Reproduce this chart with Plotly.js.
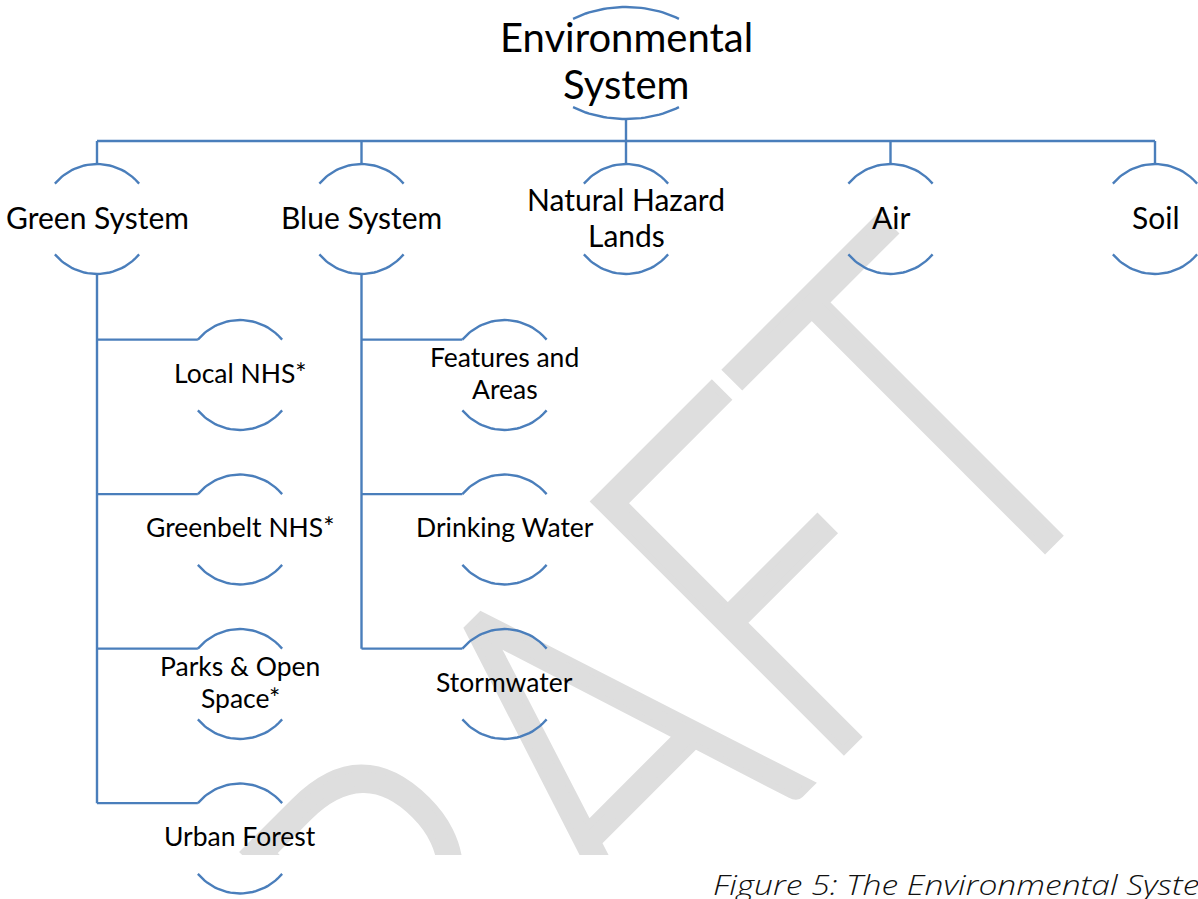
<!DOCTYPE html>
<html>
<head>
<meta charset="utf-8">
<script src="https://cdn.plot.ly/plotly-3.0.1.min.js"></script>
<style>
  html, body { margin: 0; padding: 0; background: #ffffff; }
  #wrap { position: relative; width: 1198px; height: 899px; overflow: hidden; }
  #wmClip { position: absolute; left: 0; top: 0; width: 1198px; height: 855px; overflow: hidden; }
  #wm { position: absolute; left: 0; top: 0; width: 1198px; height: 899px; }
  #chart { position: absolute; left: 0; top: 0; width: 1198px; height: 899px; }
</style>
</head>
<body>
<div id="wrap">
  <div id="wmClip"><div id="wm"></div></div>
  <div id="chart"></div>
</div>
<script>
// ---------- data ----------
const rootLabel = ['Environmental', 'System'];
const level1Labels = [['Green System'], ['Blue System'], ['Natural Hazard', 'Lands'], ['Air'], ['Soil']];
const greenChildren = [['Local NHS*'], ['Greenbelt NHS*'], ['Parks & Open', 'Space*'], ['Urban Forest']];
const blueChildren = [['Features and', 'Areas'], ['Drinking Water'], ['Stormwater']];
const childParents = [0, 1];               // level-1 indices that have children
const childLists = [greenChildren, blueChildren];
const captionText = 'Figure 5: The Environmental System';
const watermarkText = 'DRAFT';

// ---------- layout geometry ----------
const W = 1198, H = 899;
const LINE = '#4a7ebb';
const WM_COLOR = '#dedede';
const FONT = 'Lato, "Open Sans", sans-serif';
const TEXT_DY = -2.5;
const ROOT = { x: 626, y: 63, a: 86, b: 56, half: 38, size: 40, gap: 47 };
const L1 = { x0: 97, dx: 264.5, y: 219, r: 55, half: 50, size: 30, gap: 36 };
const L2 = { offX: 143, y0: 375, dy: 154.5, r: 55, half: 50, size: 26.5, gap: 32 };
const BAR_Y = 141;

const xs = [], ys = [];
function seg(pts) { pts.forEach(p => { xs.push(p[0]); ys.push(p[1]); }); xs.push(null); ys.push(null); }
function arc(cx, cy, a, b, halfDeg, top) {
  const pts = [];
  const n = 30;
  for (let i = 0; i <= n; i++) {
    const t = (-halfDeg + 2 * halfDeg * i / n) * Math.PI / 180;
    pts.push([cx + a * Math.sin(t), top ? cy - b * Math.cos(t) : cy + b * Math.cos(t)]);
  }
  seg(pts);
}
const annotations = [];
function label(lines, cx, cy, size, gap) {
  const n = lines.length;
  lines.forEach((txt, i) => {
    annotations.push({
      x: cx, y: cy + TEXT_DY + (i - (n - 1) / 2) * gap, xref: 'x', yref: 'y',
      text: txt, showarrow: false, xanchor: 'center', yanchor: 'middle',
      font: { family: FONT, size: size, color: '#000000' }
    });
  });
}
function node(lines, cx, cy, a, b, half, size, gap) {
  arc(cx, cy, a, b, half, true);
  arc(cx, cy, a, b, half, false);
  label(lines, cx, cy, size, gap);
}

// root
node(rootLabel, ROOT.x, ROOT.y, ROOT.a, ROOT.b, ROOT.half, ROOT.size, ROOT.gap);
seg([[ROOT.x, ROOT.y + ROOT.b], [ROOT.x, BAR_Y]]);
// bar across level 1
const l1x = level1Labels.map((_, i) => L1.x0 + i * L1.dx);
seg([[l1x[0], BAR_Y], [l1x[l1x.length - 1], BAR_Y]]);
level1Labels.forEach((lab, i) => {
  seg([[l1x[i], BAR_Y], [l1x[i], L1.y - L1.r]]);
  node(lab, l1x[i], L1.y, L1.r, L1.r, L1.half, L1.size, L1.gap);
});
// level 2
const endDx = L2.r * Math.sin(L2.half * Math.PI / 180);
const endDy = L2.r * Math.cos(L2.half * Math.PI / 180);
childParents.forEach((p, k) => {
  const px = l1x[p];
  const kids = childLists[k];
  const cx = px + L2.offX;
  const lastY = L2.y0 + (kids.length - 1) * L2.dy - endDy;
  seg([[px, L1.y + L1.r], [px, lastY]]);
  kids.forEach((lab, j) => {
    const cy = L2.y0 + j * L2.dy;
    seg([[px, cy - endDy], [cx - endDx, cy - endDy]]);
    node(lab, cx, cy, L2.r, L2.r, L2.half, L2.size, L2.gap);
  });
});

// caption (runs off the right edge, as in the source page)
annotations.push({
  x: 711, y: 884, xref: 'x', yref: 'y', text: captionText, showarrow: false,
  xanchor: 'left', yanchor: 'middle', align: 'left',
  font: { family: '"Open Sans", Lato, sans-serif', size: 27, color: '#111111', style: 'italic', weight: 300 }
});

const axisX = { range: [0, W], visible: false, fixedrange: true };
const axisY = { range: [H, 0], visible: false, fixedrange: true };

function pickText(selector, pick) {
  const els = document.querySelectorAll(selector);
  return pick === 'last' ? els[els.length - 1] : els[0];
}
function condense(el, fn) {
  if (el && el.getComputedTextLength) {
    const len = el.getComputedTextLength();
    el.setAttribute('textLength', fn(len).toFixed(1));
    el.setAttribute('lengthAdjust', 'spacingAndGlyphs');
  }
}

Plotly.newPlot('chart', [{
  type: 'scatter', mode: 'lines', x: xs, y: ys, hoverinfo: 'skip',
  line: { color: LINE, width: 2.4 }, connectgaps: false
}], {
  width: W, height: H, margin: { l: 0, r: 0, t: 0, b: 0 },
  paper_bgcolor: 'rgba(0,0,0,0)', plot_bgcolor: 'rgba(0,0,0,0)',
  xaxis: axisX, yaxis: axisY, showlegend: false, annotations: annotations
}, { staticPlot: true, displayModeBar: false }).then(() => {
  // the source caption face is a wide geometric italic
  condense(pickText('#chart .annotation-text', 'last'), () => 515);
});

// watermark (clipped at the page edge, y = 855)
Plotly.newPlot('wm', [], {
  width: W, height: H, margin: { l: 0, r: 0, t: 0, b: 0 },
  paper_bgcolor: '#ffffff', plot_bgcolor: '#ffffff',
  xaxis: axisX, yaxis: axisY, showlegend: false,
  annotations: [{
    x: 556, y: 765, xref: 'x', yref: 'y', text: watermarkText, showarrow: false,
    xanchor: 'center', yanchor: 'middle', textangle: -45,
    font: { family: FONT, size: 497, color: WM_COLOR, weight: 300 }
  }]
}, { staticPlot: true, displayModeBar: false }).then(() => {
  const el = pickText('#wm .annotation-text', 'first');
  condense(el, len => len * 0.79);
  if (el) {
    // thicken the light strokes to the watermark's even ~30px weight
    el.style.stroke = WM_COLOR;
    el.style.strokeWidth = '8px';
    el.style.strokeLinejoin = 'miter';
  }
});
</script>
</body>
</html>
